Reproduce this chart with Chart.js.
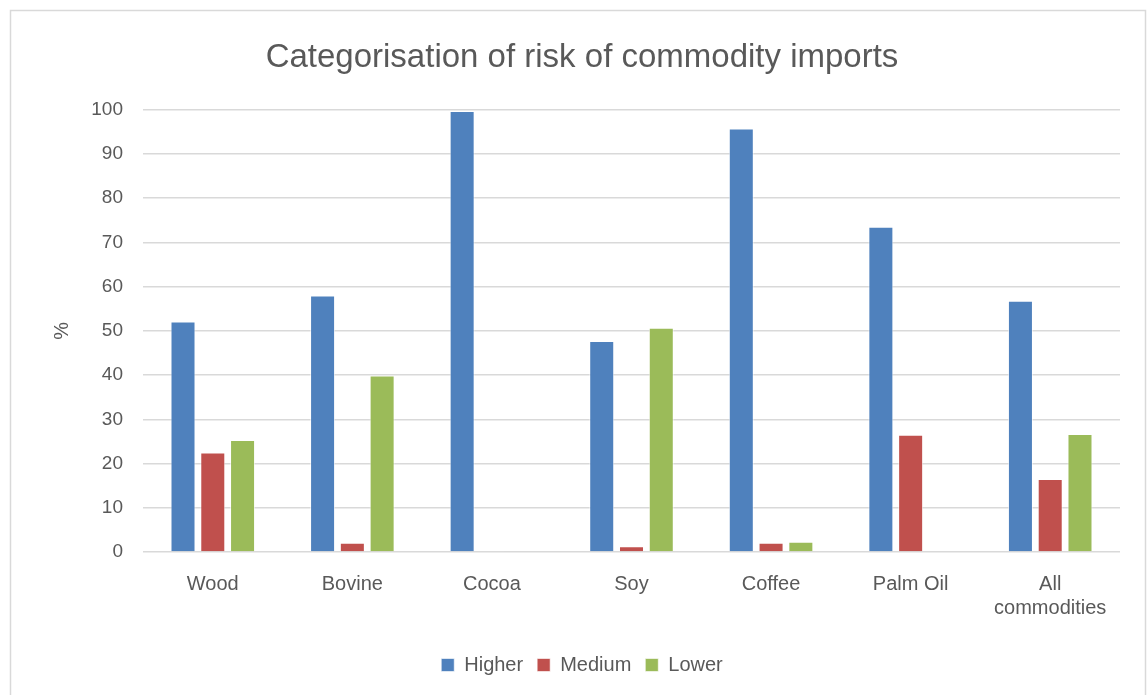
<!DOCTYPE html>
<html>
<head>
<meta charset="utf-8">
<script src="https://cdn.jsdelivr.net/npm/chart.js@4"></script>
<style>
  body { margin: 0; background: #fff; }
  #wrap { position: relative; width: 1147px; height: 695px; }
</style>
</head>
<body>
<div id="wrap"><canvas id="riskChart" width="1147" height="695"></canvas></div>
<script>
// chart data
const categories = ["Wood", "Bovine", "Cocoa", "Soy", "Coffee", "Palm Oil", ["All", "commodities"]];
const higher = [52.1, 58.0, 99.7, 47.7, 95.7, 73.5, 56.8];
const medium = [22.5, 2.1, 0.2, 1.3, 2.1, 26.5, 16.5];
const lower = [25.3, 39.9, 0, 50.7, 2.3, 0, 26.7];
const yTicks = [0, 10, 20, 30, 40, 50, 60, 70, 80, 90, 100];

const textColor = "#595959";
const fontFamily = "'Liberation Sans', Arial, sans-serif";

// light frame round the chart, like the Excel chart area
const framePlugin = {
    id: "frame",
    beforeDraw(chart) {
        const c = chart.ctx;
        c.save();
        c.fillStyle = "#fff";
        c.fillRect(0, 0, chart.width, chart.height);
        c.strokeStyle = "#d9d9d9";
        c.lineWidth = 1.5;
        c.strokeRect(10.5, 10.5, chart.width - 12, chart.height + 20);
        c.restore();
    }
};

function makeSet(label, data, color) {
    return {
        label: label,
        data: data,
        backgroundColor: color,
        borderColor: "rgba(255,255,255,0.6)",
        borderWidth: 1,
        categoryPercentage: 0.64,
        barPercentage: 0.84
    };
}

new Chart(document.getElementById("riskChart"), {
    type: "bar",
    data: {
        labels: categories,
        datasets: [
            makeSet("Higher", higher, "#4f81bd"),
            makeSet("Medium", medium, "#c0504d"),
            makeSet("Lower", lower, "#9bbb59")
        ]
    },
    plugins: [framePlugin],
    options: {
        responsive: false,
        animation: false,
        layout: { padding: { left: 44, right: 27, top: 26, bottom: 10 } },
        plugins: {
            title: {
                display: true,
                text: "Categorisation of risk of commodity imports",
                color: textColor,
                font: { family: fontFamily, size: 33, weight: "normal" },
                padding: { top: 12, bottom: 32 }
            },
            legend: {
                position: "bottom",
                labels: {
                    color: textColor,
                    font: { family: fontFamily, size: 20 },
                    boxWidth: 13,
                    boxHeight: 13,
                    padding: 14
                }
            },
            tooltip: { enabled: false }
        },
        scales: {
            x: {
                grid: { display: false },
                border: { display: false },
                afterFit(scale) { scale.height += 9; },
                ticks: {
                    color: textColor,
                    font: { family: fontFamily, size: 20 },
                    padding: 12
                }
            },
            y: {
                min: 0,
                max: 100,
                afterBuildTicks(scale) {
                    scale.ticks = yTicks.map(v => ({ value: v }));
                },
                afterFit(scale) { scale.width = 99; },
                grid: { color: "#d9d9d9", lineWidth: 1.5, drawTicks: false },
                border: { display: false },
                ticks: {
                    color: textColor,
                    font: { family: fontFamily, size: 19 },
                    padding: 20
                },
                title: {
                    display: true,
                    text: "%",
                    color: textColor,
                    font: { family: fontFamily, size: 20 },
                    padding: { top: 6, bottom: 0 }
                }
            }
        }
    }
});
</script>
</body>
</html>
